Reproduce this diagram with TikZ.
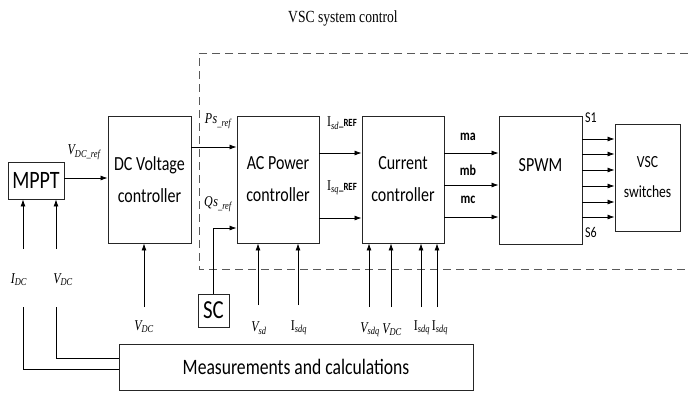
\documentclass[tikz,border=0pt]{standalone}
\usepackage{fontspec}
\setmainfont[FakeStretch=0.8]{Carlito}
\newfontfamily\tnr[FakeStretch=0.8]{Liberation Serif}
\newcommand\refsuffix{\fontsize{11}{11}\selectfont\bfseries\_REF}
\usetikzlibrary{arrows.meta}
\begin{document}
\begin{tikzpicture}[x=1pt,y=-1pt,
  blk/.style={draw=black!85, line width=0.9pt, align=center, inner sep=0pt, font=\fontsize{20}{32}\selectfont},
  arr/.style={-{Latex[length=7pt,width=5pt]}, line width=0.8pt},
  ln/.style={line width=0.8pt},
  tl/.style={font=\tnr\fontsize{15}{15}\selectfont\itshape, inner sep=0pt},
  tu/.style={font=\tnr\fontsize{15}{15}\selectfont, inner sep=0pt},
  sig/.style={font=\fontsize{15}{15}\selectfont\bfseries, inner sep=0pt},
  sw/.style={font=\fontsize{15}{15}\selectfont, inner sep=0pt},
  dsh/.style={draw=black!65, line width=1pt, dash pattern=on 8pt off 5pt}]
\useasboundingbox (0,0) rectangle (688,394);

% title and dashed frame
\node[font=\tnr\fontsize{17}{17}\selectfont] (title) at (343,18) {VSC system control};
\draw[dsh] (688,53) -- (199,53) -- (199,269) -- (688,269);

% blocks
\node[blk, font=\fontsize{25}{25}\selectfont, minimum width=56pt, minimum height=37pt] (mppt) at (36,180.5) {MPPT};
\node[blk, minimum width=83pt, minimum height=127pt] (dc) at (149.5,179.5) {DC Voltage\\controller};
\node[blk, minimum width=82pt, minimum height=127pt] (ac) at (278,179.5) {AC Power\\controller};
\node[blk, minimum width=82pt, minimum height=127pt] (cc) at (403,179.5) {Current\\controller};
\node[blk, minimum width=83pt, minimum height=128pt] (spwm) at (540.5,180) {};
\node[font=\fontsize{20}{20}\selectfont, inner sep=0pt] (spwmt) at (540.5,165) {SPWM};
\node[blk, font=\fontsize{17}{30}\selectfont, minimum width=65pt, minimum height=107pt] (vsc) at (647.5,177.5) {VSC\\switches};
\node[blk, font=\fontsize{26}{26}\selectfont, minimum width=31pt, minimum height=33pt] (sc) at (213.5,310.5) {SC};
\node[blk, font=\fontsize{22}{22}\selectfont, minimum width=354pt, minimum height=46pt] (meas) at (296,367) {Measurements and calculations};

% forward connections
\draw[arr] (mppt.east |- 0,178) -- (dc.west |- 0,178);
\draw[arr] (dc.east |- 0,147) -- (ac.west |- 0,147);
\draw[arr] (sc.north) -- (sc.north |- 0,228) -- (ac.west |- 0,228);
\draw[arr] (ac.east |- 0,153) -- (cc.west |- 0,153);
\draw[arr] (ac.east |- 0,218) -- (cc.west |- 0,218);
\foreach \yy in {153,185,217} \draw[arr] (cc.east |- 0,\yy) -- (spwm.west |- 0,\yy);
\foreach \yy in {139,154,170,186,202,217} \draw[arr] (spwm.east |- 0,\yy) -- (vsc.west |- 0,\yy);

% MPPT measurements
\coordinate (idcT) at (23,249);
\coordinate (vdcT) at (56,249);
\coordinate (idcB) at (23,307);
\coordinate (vdcB) at (56,307);
\draw[arr] (idcT) -- (mppt.south -| idcT);
\draw[arr] (vdcT) -- (mppt.south -| vdcT);
\draw[ln] (meas.west |- 0,369) -- (idcB |- 0,369) -- (idcB);
\draw[ln] (meas.west |- 0,358) -- (vdcB |- 0,358) -- (vdcB);

% other measurement inputs
\foreach \xx/\yy/\n in {144/307/dc, 258/305/ac, 298/305/ac, 369/307/cc, 391/307/cc, 421/307/cc, 437/307/cc}
  {\coordinate (m\xx) at (\xx,\yy); \draw[arr] (m\xx) -- (\n.south -| m\xx);}

% labels
\node[tl] (lvref) at (84,152) {V\textsubscript{DC\_ref}};
\node[tl] (lps) at (218,121) {P\kern0.5pt s\textsubscript{\_ref}};
\node[tl] (lqs) at (218,204) {Q\kern0.5pt s\textsubscript{\_ref}};
\node[inner sep=0pt] (lisd) at (342,123) {{\tnr\fontsize{15}{15}\selectfont I\textsubscript{\itshape sd}}{\refsuffix}};
\node[inner sep=0pt] (lisq) at (342,188) {{\tnr\fontsize{15}{15}\selectfont I\textsubscript{\itshape sq}}{\refsuffix}};
\node[sig] (lma) at (468,137) {ma};
\node[sig] (lmb) at (468,170) {mb};
\node[sig] (lmc) at (468,200) {mc};
\node[sw] (ls1) at (591,118) {S1};
\node[sw] (ls6) at (591,232) {S6};
\node[tl] (lidc) at (19,280) {I\textsubscript{DC}};
\node[tl] (lvdc) at (63,280) {V\textsubscript{DC}};
\node[tl] (lvdc2) at (144,327) {V\textsubscript{DC}};
\node[tl] (lvsd) at (259,328) {V\textsubscript{sd}};
\node[tu] (lisdq) at (299,328) {I\textsubscript{\itshape sdq}};
\node[tl] (lvsdq) at (370,330) {V\textsubscript{sdq}};
\node[tl] (lvdc3) at (392,330) {V\textsubscript{DC}};
\node[tu] (lisdq2) at (422,328) {I\textsubscript{\itshape sdq}};
\node[tu] (lisdq3) at (440,328) {I\textsubscript{\itshape sdq}};
\end{tikzpicture}
\end{document}
